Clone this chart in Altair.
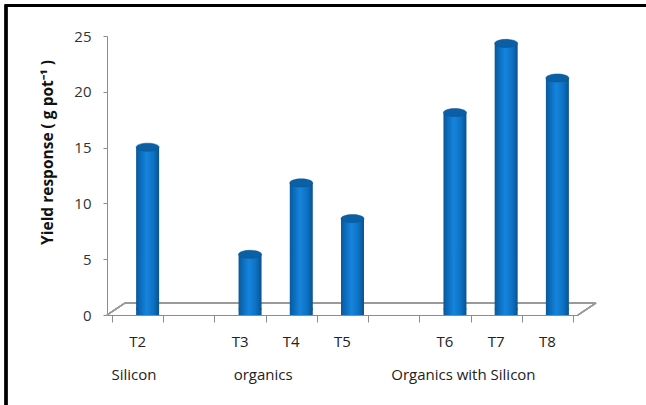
import altair as alt
import pandas as pd

# ---- data ----
treatments = ["T2", "T3", "T4", "T5", "T6", "T7", "T8"]
groups = ["Silicon", "organics", "organics", "organics",
          "Organics with Silicon", "Organics with Silicon", "Organics with Silicon"]
values = [14.5, 4.9, 11.3, 8.1, 17.6, 23.8, 20.7]
group_names = ["Silicon", "organics", "Organics with Silicon"]
y_ticks = [0, 5, 10, 15, 20, 25]

# slot index: one empty slot between consecutive groups
slots = []
s = 0
prev = None
for g in groups:
    if prev is not None and g != prev:
        s += 1
    slots.append(s)
    s += 1
    prev = g
n_slots = s

df = pd.DataFrame({"t": treatments, "g": groups, "v": values,
                   "slot": [x + 0.5 for x in slots]})
df["zero"] = 0.0

# layout constants (pixels / slot units)
W, H = 471, 279
DX, DY = 18, 12           # 3D depth of floor
BX, BY = 10, -6           # bar shift (half depth)
BAR_W = 23
group_label_x = {"Silicon": 0.43, "organics": 2.95, "Organics with Silicon": 6.86}
gl = pd.DataFrame({"g": group_names, "x": [group_label_x[g] for g in group_names]})

FONT = "Open Sans, sans-serif"
ELLIPSE = "M -1 0 A 1 0.35 0 1 1 1 0 A 1 0.35 0 1 1 -1 0 Z"

grad = alt.Gradient(
    gradient="linear", x1=0, x2=1, y1=0, y2=0,
    stops=[
        alt.GradientStop(color="#0b5898", offset=0),
        alt.GradientStop(color="#0b6dbd", offset=0.2),
        alt.GradientStop(color="#1684dc", offset=0.45),
        alt.GradientStop(color="#0c72c4", offset=0.75),
        alt.GradientStop(color="#0a5290", offset=1),
    ],
)

xs = alt.Scale(domain=[0, n_slots], nice=False, zero=False)
ys = alt.Scale(domain=[0, 25], nice=False)

base = alt.Chart(df)

axes = base.mark_point(opacity=0).encode(
    x=alt.X("slot:Q", scale=xs,
            axis=alt.Axis(values=list(range(n_slots + 1)), labels=False, grid=False,
                          tickSize=7, tickColor="#8c8c8c", domainColor="#8c8c8c",
                          title=None)),
    y=alt.Y("v:Q", scale=ys,
            axis=alt.Axis(values=y_ticks, grid=False, tickSize=4, tickColor="#8c8c8c",
                          domainColor="#8c8c8c", labelFont=FONT, labelFontSize=15,
                          labelColor="#333333", labelPadding=12,
                          title="Yield response ( g  pot⁻¹ )",
                          titleFont=FONT, titleFontSize=15.5, titleFontWeight="bold",
                          titleColor="#111111", titleX=-60, titleY=116,
                          titleAlign="center", titleBaseline="middle")),
)

floor_style = dict(color="#9a9a9a", strokeWidth=1.2)
floor_left = alt.Chart(df).mark_rule(**floor_style).encode(
    x=alt.value(0), x2=alt.value(DX), y=alt.value(H), y2=alt.value(H - DY))
floor_back = alt.Chart(df).mark_rule(**floor_style).encode(
    x=alt.value(DX), x2=alt.value(W + DX), y=alt.value(H - DY), y2=alt.value(H - DY))
floor_right = alt.Chart(df).mark_rule(**floor_style).encode(
    x=alt.value(W), x2=alt.value(W + DX), y=alt.value(H), y2=alt.value(H - DY))

bottoms = base.mark_point(shape=ELLIPSE, filled=True, fill=grad, strokeWidth=0,
                          size=BAR_W ** 2, opacity=1, xOffset=BX, yOffset=BY).encode(
    x=alt.X("slot:Q", scale=xs), y=alt.Y("zero:Q", scale=ys))

bars = base.mark_bar(fill=grad, size=BAR_W, xOffset=BX, yOffset=BY).encode(
    x=alt.X("slot:Q", scale=xs), y=alt.Y("v:Q", scale=ys), y2="zero:Q")

tops = base.mark_point(shape=ELLIPSE, filled=True, fill="#0b5fa4", stroke="#0a5290",
                       strokeWidth=0.5, size=BAR_W ** 2, opacity=1,
                       xOffset=BX, yOffset=BY).encode(
    x=alt.X("slot:Q", scale=xs), y=alt.Y("v:Q", scale=ys))

tlabels = base.mark_text(font=FONT, fontSize=15, color="#222222", baseline="middle").encode(
    x=alt.X("slot:Q", scale=xs), y=alt.value(306), text="t:N")

glabels = alt.Chart(gl).mark_text(font=FONT, fontSize=15, color="#222222",
                                  baseline="middle").encode(
    x=alt.X("x:Q", scale=xs), y=alt.value(339), text="g:N")

border_top = alt.Chart(df).mark_rule(color="black", strokeWidth=2.5).encode(
    x=alt.value(-102), x2=alt.value(646 - 107), y=alt.value(-30.5), y2=alt.value(-30.5))
border_left = alt.Chart(df).mark_rule(color="black", strokeWidth=2.5).encode(
    x=alt.value(-101), x2=alt.value(-101), y=alt.value(-31.5), y2=alt.value(405))

chart = alt.layer(
    axes, floor_left, floor_back, floor_right, bottoms, bars, tops,
    tlabels, glabels, border_top, border_left,
).properties(
    width=W, height=H,
    padding={"left": 107, "top": 36, "right": 646 - 107 - W, "bottom": 405 - 36 - H},
    autosize=alt.AutoSizeParams(type="none"),
    background="white",
).configure_view(stroke=None)

chart.save("out.html", embed_options={"renderer": "svg", "actions": False})
